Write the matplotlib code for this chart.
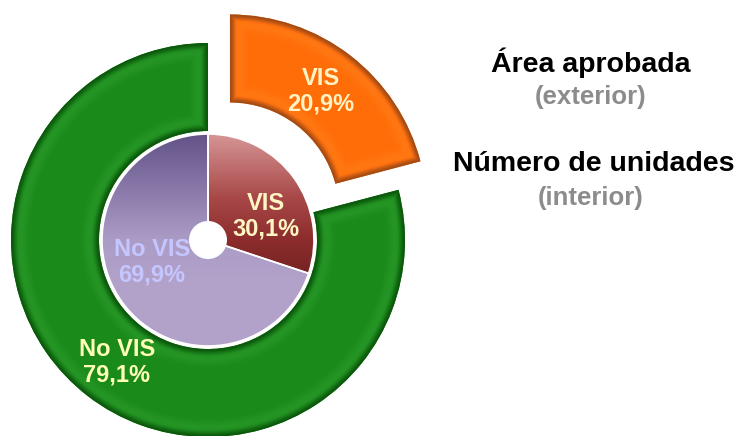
import numpy as np
import matplotlib.pyplot as plt
from matplotlib.colors import to_rgb
from matplotlib.patches import Circle

# Shares of VIS / No VIS housing
categories = ["VIS", "No VIS"]
area_share = [20.9, 79.1]     # approved area (outer ring)
units_share = [30.1, 69.9]    # number of units (inner pie)

W, H = 741, 436
fig = plt.figure(figsize=(W / 100, H / 100), dpi=100)
ax = fig.add_axes([0, 0, 1, 1])

cx, cy = 208, 196
R_out, ring_w = 197, 88
R_in = 106
hole_r = 19

outer, _ = ax.pie(area_share, radius=R_out, center=(cx, cy), startangle=90,
                  counterclock=False, explode=[36, 0],
                  colors=["#ff6e0a", "#1a8a1a"],
                  wedgeprops=dict(width=ring_w, linewidth=0))
inner, _ = ax.pie(units_share, radius=R_in, center=(cx, cy), startangle=90,
                  counterclock=False, colors=["#9a3a3a", "#b0a0c8"],
                  wedgeprops=dict(linewidth=1.2, edgecolor="white"))

X, Y = np.meshgrid(np.arange(W) + 0.5, np.arange(H) + 0.5)


def bevel_image(wedge, base, rim, width_px=8, glow=0.04):
    x0, y0 = wedge.center
    dx, dy = X - x0, Y - y0
    r = np.hypot(dx, dy)
    th = np.degrees(np.arctan2(dy, dx))
    span = wedge.theta2 - wedge.theta1
    a = np.mod(th - wedge.theta1, 360)
    a = np.clip(a, 0, span)
    side = np.radians(np.minimum(a, span - a)) * r
    r_o = wedge.r
    r_i = r_o - wedge.width
    d = np.minimum.reduce([r - r_i, r_o - r, side])
    t = np.clip(d / width_px, 0, 1)
    shade = t * t * (3 - 2 * t)
    b = np.array(to_rgb(base))
    e = np.array(to_rgb(rim))
    img = e + (b - e) * shade[..., None]
    hl = glow * np.exp(-((d - 10) / 6.0) ** 2)
    return np.clip(img + hl[..., None], 0, 1)


def vertical_image(stops, top, bottom):
    s = np.clip((top - Y) / (top - bottom), 0, 1)
    pos = [p for p, _ in stops]
    cols = np.array([to_rgb(c) for _, c in stops])
    return np.stack([np.interp(s, pos, cols[:, k]) for k in range(3)], axis=-1)


def paint(img, wedge, z):
    im = ax.imshow(img, extent=(0, W, 0, H), origin="lower",
                   interpolation="bilinear", zorder=z)
    im.set_clip_path(wedge)


# outer ring with bevelled edges
paint(bevel_image(outer[0], "#ff6d08", "#a04a14"), outer[0], 1.5)
paint(bevel_image(outer[1], "#1a8a1a", "#0a560a"), outer[1], 1.5)

# inner pie with vertical gradients
top, bottom = cy + R_in, cy - R_in
paint(vertical_image([(0, "#d69696"), (0.3, "#a84848"), (0.5, "#8c2c2c"),
                      (0.75, "#6a1e1e"), (1, "#601a1a")], top, bottom), inner[0], 2)
paint(vertical_image([(0, "#625286"), (0.25, "#8877a8"), (0.5, "#ab9cc6"),
                      (0.7, "#b2a2ca"), (1, "#b2a2ca")], top, bottom), inner[1], 2)
for w in inner:
    w.set_facecolor("none")
    w.set_zorder(3)

ax.add_patch(Circle((cx, cy), hole_r, facecolor="white", edgecolor="none", zorder=4))


def fmt(name, v):
    return f"{name}\n{v:.1f}%".replace(".", ",")


label_kw = dict(ha="center", va="center", fontsize=17, fontweight="bold",
                family="Liberation Sans", zorder=5, linespacing=1.15)
ax.text(321, H - 91, fmt(categories[0], area_share[0]), color="#fff3c4", **label_kw)
ax.text(117, H - 362, fmt(categories[1], area_share[1]), color="#ffffb8", **label_kw)
ax.text(266, H - 216, fmt(categories[0], units_share[0]), color="#fff6c4", **label_kw)
ax.text(152, H - 262, fmt(categories[1], units_share[1]), color="#c6c6ff", **label_kw)

title_kw = dict(ha="center", va="center", fontweight="bold", family="Liberation Sans")
ax.text(591, H - 63, "Área aprobada", fontsize=20.5, color="black", **title_kw)
ax.text(591, H - 97, "(exterior)", fontsize=18.5, color="#8c8c8c", **title_kw)
ax.text(594, H - 164, "Número de unidades", fontsize=20.5, color="black", **title_kw)
ax.text(591, H - 198, "(interior)", fontsize=18.5, color="#8c8c8c", **title_kw)

ax.set_xlim(0, W)
ax.set_ylim(0, H)
ax.set_aspect("equal")
ax.axis("off")

fig.savefig("out.png", dpi=100)
